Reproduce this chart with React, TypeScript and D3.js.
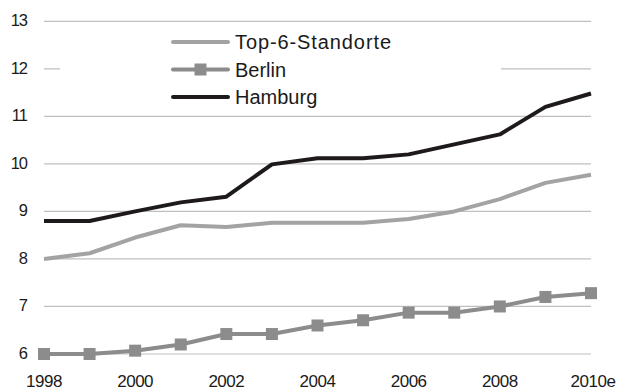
import React from "react";
import * as d3 from "d3";

const years = [1998, 1999, 2000, 2001, 2002, 2003, 2004, 2005, 2006, 2007, 2008, 2009, 2010];
const xTickYears = [1998, 2000, 2002, 2004, 2006, 2008, 2010];
const xTickLabels = ["1998", "2000", "2002", "2004", "2006", "2008", "2010e"];
const yTicks = [6, 7, 8, 9, 10, 11, 12, 13];

const top6 = [8.0, 8.12, 8.45, 8.71, 8.67, 8.76, 8.76, 8.76, 8.84, 9.0, 9.26, 9.6, 9.77];
const berlin = [6.0, 6.0, 6.07, 6.2, 6.42, 6.42, 6.6, 6.71, 6.87, 6.87, 7.0, 7.2, 7.28];
const hamburg = [8.8, 8.8, 9.0, 9.19, 9.31, 9.99, 10.12, 10.12, 10.2, 10.41, 10.62, 11.2, 11.48];

const W = 628;
const H = 389;
const FONT = "'Liberation Sans', Arial, sans-serif";

export default function App() {
  const x = d3.scaleLinear().domain([1998, 2010]).range([44, 591]);
  const y = d3.scaleLinear().domain([6, 13]).range([354, 21.3]);

  const line = (vals: number[]) =>
    d3.line<number>().x((_, i) => x(years[i])).y((v) => y(v))(vals) || "";

  const legendItems = [
    { name: "Top-6-Standorte", color: "#a3a3a3", marker: false, ly: 42, ls: 0.9 },
    { name: "Berlin", color: "#8c8c8c", marker: true, ly: 69.5, ls: 0 },
    { name: "Hamburg", color: "#1e1a1a", marker: false, ly: 97, ls: 0 },
  ];

  return (
    <svg
      width={W}
      height={H}
      style={{ position: "absolute", left: 0, top: 0, background: "#fff" }}
      fontFamily={FONT}
    >
      {/* horizontal gridlines */}
      {yTicks.map((t) => (
        <line key={t} x1={44} x2={591} y1={y(t)} y2={y(t)} stroke="#c0c0c0" strokeWidth={1.2} />
      ))}

      {/* legend panel */}
      <rect x={60} y={30} width={441} height={82} fill="#fff" />
      {legendItems.map((d) => (
        <g key={d.name}>
          <line x1={173} x2={228} y1={d.ly} y2={d.ly} stroke={d.color} strokeWidth={4} strokeLinecap="round" />
          {d.marker && <rect x={194.5} y={d.ly - 6} width={12} height={12} fill={d.color} />}
          <text x={235} y={d.ly + 7} fontSize={20} letterSpacing={d.ls} fill="#1a1a1a">
            {d.name}
          </text>
        </g>
      ))}

      {/* y axis labels */}
      {yTicks.map((t) => (
        <text
          key={t}
          x={27}
          y={y(t) - 1}
          dy="0.35em"
          textAnchor="end"
          fontSize={16.5}
          letterSpacing={-1}
          fill="#1a1a1a"
        >
          {t}
        </text>
      ))}

      {/* x axis labels */}
      {xTickYears.map((t, i) => (
        <text
          key={t}
          x={x(t) + (i === xTickYears.length - 1 ? 2 : 0)}
          y={386.5}
          textAnchor="middle"
          fontSize={17}
          letterSpacing={-0.5}
          fill="#1a1a1a"
        >
          {xTickLabels[i]}
        </text>
      ))}

      {/* series */}
      <path d={line(top6)} fill="none" stroke="#a3a3a3" strokeWidth={4} strokeLinejoin="round" />
      <path d={line(berlin)} fill="none" stroke="#8c8c8c" strokeWidth={4} strokeLinejoin="round" />
      {berlin.map((v, i) => (
        <rect key={i} x={x(years[i]) - 6} y={y(v) - 6} width={12} height={12} fill="#8c8c8c" />
      ))}
      <path d={line(hamburg)} fill="none" stroke="#1e1a1a" strokeWidth={4} strokeLinejoin="round" />
    </svg>
  );
}
